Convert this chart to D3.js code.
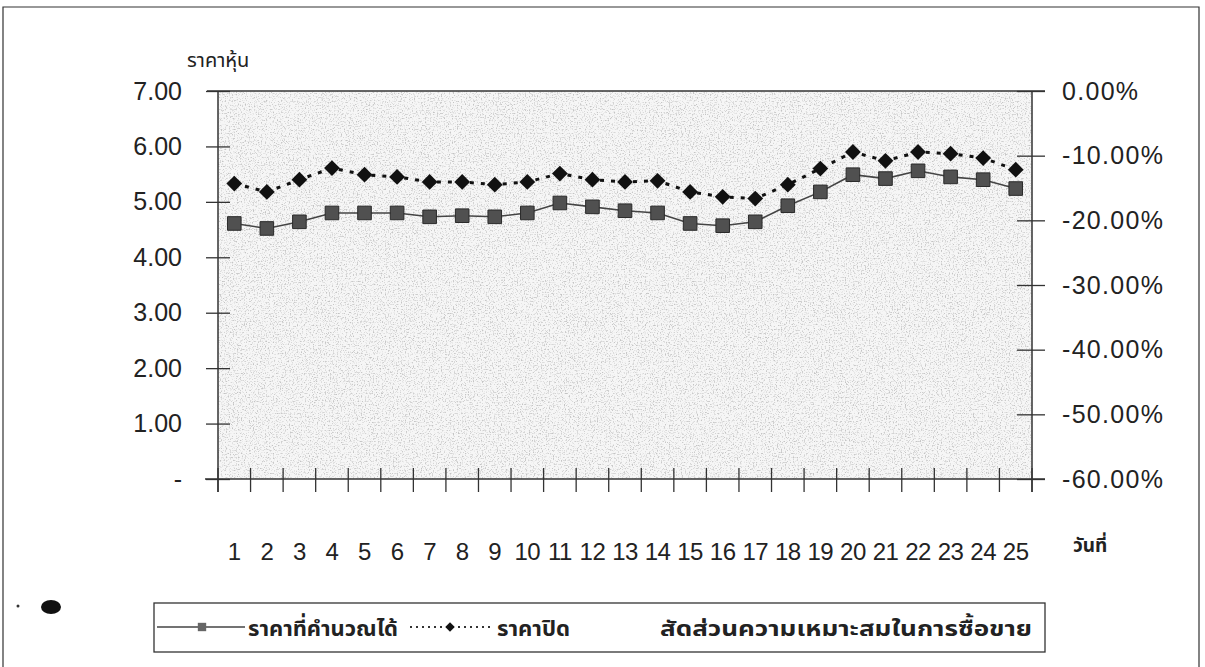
<!DOCTYPE html>
<html>
<head>
<meta charset="utf-8">
<script src="https://cdn.jsdelivr.net/npm/d3@7"></script>
<style>
  body { margin: 0; background: #fff; }
  svg { display: block; font-family: "Liberation Sans", Arial, sans-serif; }
</style>
</head>
<body>
<svg id="chart" width="1205" height="667"></svg>
<script>
// Data.
var days = d3.range(1, 26);
var calcPrice = [4.61, 4.52, 4.64, 4.80, 4.80, 4.80, 4.73, 4.75, 4.73, 4.80,
                 4.98, 4.91, 4.84, 4.80, 4.61, 4.57, 4.64, 4.93, 5.18, 5.49,
                 5.42, 5.56, 5.45, 5.40, 5.24];
var closePrice = [5.33, 5.18, 5.40, 5.61, 5.49, 5.45, 5.36, 5.36, 5.31, 5.36,
                  5.51, 5.40, 5.36, 5.38, 5.18, 5.09, 5.06, 5.31, 5.60, 5.90,
                  5.74, 5.90, 5.87, 5.79, 5.58];
var leftTicks = [0, 1, 2, 3, 4, 5, 6, 7];
var rightTicks = [-0.6, -0.5, -0.4, -0.3, -0.2, -0.1, 0];
var seriesNames = ['ราคาที่คำนวณได้', 'ราคาปิด', 'สัดส่วนความเหมาะสมในการซื้อขาย'];
var yTitle = 'ราคาหุ้น';
var xTitle = 'วันที่';

// Layout constants.
var kLeft = 218, kRight = 1032, kTop = 91, kBottom = 479;
var kThaiFont = '"Noto Sans Thai", "Noto Sans", "DejaVu Sans", sans-serif';

var svg = d3.select('#chart');

// Outer frame (left, top, right only; bottom is cut off).
svg.append('path')
  .attr('d', 'M3,667 L3,7 L1199,7 L1199,667')
  .attr('fill', 'none')
  .attr('stroke', '#333')
  .attr('stroke-width', 1.2);

// Scales.
var x = d3.scaleBand().domain(days).range([kLeft, kRight]);
var y = d3.scaleLinear().domain([0, 7]).range([kBottom, kTop]);
var yRight = d3.scaleLinear().domain([-0.6, 0]).range([kBottom, kTop]);

// Speckled gray plot background, like the scanned original.
var defs = svg.append('defs');
var noise = defs.append('filter').attr('id', 'grain')
  .attr('x', 0).attr('y', 0).attr('width', 1).attr('height', 1);
noise.append('feTurbulence')
  .attr('type', 'fractalNoise')
  .attr('baseFrequency', 0.75)
  .attr('numOctaves', 2)
  .attr('seed', 7)
  .attr('result', 'n');
noise.append('feColorMatrix')
  .attr('type', 'matrix')
  .attr('values', '0 0 0 0 0.55  0 0 0 0 0.55  0 0 0 0 0.55  0 0 0 -3.6 1.75');
noise.append('feComposite').attr('in2', 'SourceGraphic').attr('operator', 'in');

svg.append('rect')
  .attr('x', kLeft).attr('y', kTop)
  .attr('width', kRight - kLeft).attr('height', kBottom - kTop)
  .attr('fill', '#f6f6f6');
svg.append('rect')
  .attr('x', kLeft).attr('y', kTop)
  .attr('width', kRight - kLeft).attr('height', kBottom - kTop)
  .attr('fill', '#fff')
  .attr('filter', 'url(#grain)');

// Left axis.
var leftAxis = svg.append('g')
  .attr('transform', 'translate(' + kLeft + ',0)')
  .call(d3.axisLeft(y).tickValues(leftTicks).tickSize(12).tickPadding(24)
    .tickFormat(function(d) { return d == 0 ? '-     ' : d3.format('.2f')(d); }));
leftAxis.selectAll('.tick line').attr('x2', -12).attr('x1', 12);
leftAxis.select('.domain').remove();

// Right axis (no series drawn against it).
var locale = d3.formatLocale({ decimal: '.', thousands: ',', grouping: [3],
                               currency: ['', ''], minus: '-' });
var rightAxis = svg.append('g')
  .attr('transform', 'translate(' + kRight + ',0)')
  .call(d3.axisRight(yRight).tickValues(rightTicks).tickSize(13).tickPadding(17)
    .tickFormat(locale.format('.2%')));
rightAxis.selectAll('.tick line').attr('x1', -15);
rightAxis.select('.domain').remove();

[leftAxis, rightAxis].forEach(function(g) {
  g.selectAll('.tick line').attr('stroke', '#333').attr('stroke-width', 1.3);
  g.selectAll('.tick text')
    .attr('fill', '#222')
    .attr('font-size', 25)
    .attr('font-family', '"Liberation Sans", Arial, sans-serif');
});
rightAxis.selectAll('.tick text').attr('letter-spacing', 1.3);

// Plot border lines.
svg.append('line').attr('x1', 207).attr('x2', 1045).attr('y1', kTop).attr('y2', kTop)
  .attr('stroke', '#333').attr('stroke-width', 1.3);
svg.append('line').attr('x1', kLeft).attr('x2', kLeft).attr('y1', kTop).attr('y2', 492)
  .attr('stroke', '#333').attr('stroke-width', 1.5);
svg.append('line').attr('x1', kRight).attr('x2', kRight).attr('y1', kTop).attr('y2', 492)
  .attr('stroke', '#333').attr('stroke-width', 1.5);
svg.append('line').attr('x1', 205).attr('x2', 1045).attr('y1', kBottom).attr('y2', kBottom)
  .attr('stroke', '#333').attr('stroke-width', 1.5);

// Category ticks sit on the band edges and cross the axis.
var edges = days.map(function(d) { return x(d); }).concat([kRight]);
svg.append('g').selectAll('line')
  .data(edges)
  .join('line')
  .attr('x1', function(d) { return d; })
  .attr('x2', function(d) { return d; })
  .attr('y1', kBottom - 11)
  .attr('y2', kBottom + 13)
  .attr('stroke', '#333')
  .attr('stroke-width', 1.3);

svg.append('g').selectAll('text')
  .data(days)
  .join('text')
  .attr('x', function(d) { return x(d) + x.bandwidth() / 2; })
  .attr('y', 560)
  .attr('text-anchor', 'middle')
  .attr('font-size', 24)
  .attr('letter-spacing', -0.5)
  .attr('fill', '#222')
  .text(function(d) { return d; });

// Axis titles.
svg.append('text')
  .attr('x', 187).attr('y', 67)
  .attr('font-family', kThaiFont)
  .attr('font-size', 20)
  .attr('fill', '#222')
  .text(yTitle);
svg.append('text')
  .attr('x', 1073).attr('y', 552)
  .attr('font-family', kThaiFont)
  .attr('font-size', 19)
  .attr('font-weight', 'bold')
  .attr('fill', '#222')
  .text(xTitle);

// Series.
var cx = function(d, i) { return x(days[i]) + x.bandwidth() / 2; };
var line = d3.line()
  .x(cx)
  .y(function(d) { return y(d); });

svg.append('path')
  .datum(calcPrice)
  .attr('d', line)
  .attr('fill', 'none')
  .attr('stroke', '#444')
  .attr('stroke-width', 1.6);
svg.append('path')
  .datum(closePrice)
  .attr('d', line)
  .attr('fill', 'none')
  .attr('stroke', '#111')
  .attr('stroke-width', 3)
  .attr('stroke-dasharray', '4,7');

var square = d3.symbol().type(d3.symbolSquare).size(185);
// Square diamond (rotated square), not d3's tall diamond.
var diamond = d3.symbol().type(d3.symbolSquare).size(125);

svg.append('g').selectAll('path')
  .data(calcPrice)
  .join('path')
  .attr('d', square)
  .attr('transform', function(d, i) { return 'translate(' + cx(d, i) + ',' + y(d) + ')'; })
  .attr('fill', '#505050')
  .attr('stroke', '#2a2a2a')
  .attr('stroke-width', 1);
svg.append('g').selectAll('path')
  .data(closePrice)
  .join('path')
  .attr('d', diamond)
  .attr('transform', function(d, i) {
    return 'translate(' + cx(d, i) + ',' + y(d) + ') rotate(45)';
  })
  .attr('fill', '#111');

// Legend.
var legend = svg.append('g');
legend.append('rect')
  .attr('x', 154).attr('y', 603).attr('width', 891).attr('height', 49)
  .attr('fill', '#fff').attr('stroke', '#333').attr('stroke-width', 1.3);
legend.append('line')
  .attr('x1', 157).attr('x2', 245).attr('y1', 627).attr('y2', 627)
  .attr('stroke', '#444').attr('stroke-width', 1.5);
legend.append('path')
  .attr('d', d3.symbol().type(d3.symbolSquare).size(70))
  .attr('transform', 'translate(202,627)')
  .attr('fill', '#666');
legend.append('line')
  .attr('x1', 410).attr('x2', 490).attr('y1', 627).attr('y2', 627)
  .attr('stroke', '#333').attr('stroke-width', 2)
  .attr('stroke-dasharray', '2,4');
legend.append('path')
  .attr('d', d3.symbol().type(d3.symbolSquare).size(45))
  .attr('transform', 'translate(450,627) rotate(45)')
  .attr('fill', '#111');
var legendX = [248, 497, 660];
var legendW = [150, 73, 372];
legend.selectAll('text.name')
  .data(seriesNames)
  .join('text')
  .attr('class', 'name')
  .attr('x', function(d, i) { return legendX[i]; })
  .attr('y', 636)
  .attr('textLength', function(d, i) { return legendW[i]; })
  .attr('lengthAdjust', 'spacingAndGlyphs')
  .attr('font-family', kThaiFont)
  .attr('font-size', 22)
  .attr('font-weight', 'bold')
  .attr('fill', '#222')
  .text(function(d) { return d; });

// Ink blot from the scan, left of the legend.
svg.append('ellipse')
  .attr('cx', 51).attr('cy', 607).attr('rx', 10).attr('ry', 7)
  .attr('fill', '#111');
svg.append('circle')
  .attr('cx', 18).attr('cy', 606).attr('r', 1.5)
  .attr('fill', '#333');
</script>
</body>
</html>
